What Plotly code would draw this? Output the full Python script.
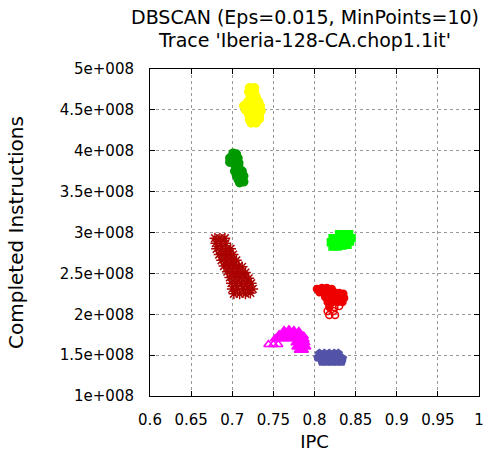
import plotly.graph_objects as go

# ---- data (IPC, Completed Instructions in units of 1e8) ----
yellow_ipc = [0.721, 0.727, 0.720, 0.727, 0.722, 0.729, 0.719, 0.726, 0.732, 0.714, 0.721, 0.728, 0.734,
              0.716, 0.723, 0.730, 0.735, 0.720, 0.727, 0.733, 0.721, 0.728, 0.733, 0.723, 0.729]
yellow_ins = [4.77, 4.77, 4.72, 4.72, 4.66, 4.66, 4.60, 4.60, 4.60, 4.55, 4.55, 4.55, 4.55,
              4.50, 4.50, 4.50, 4.49, 4.44, 4.44, 4.44, 4.38, 4.38, 4.39, 4.34, 4.34]

dgreen_ipc = [0.701, 0.705, 0.697, 0.702, 0.707, 0.697, 0.703, 0.708, 0.704, 0.708, 0.703, 0.708, 0.712,
              0.705, 0.710, 0.714, 0.707, 0.712, 0.709, 0.714]
dgreen_ins = [3.97, 3.96, 3.91, 3.91, 3.91, 3.86, 3.86, 3.85, 3.80, 3.80, 3.75, 3.75, 3.75,
              3.70, 3.70, 3.69, 3.65, 3.65, 3.61, 3.62]

dred_ipc = [0.679, 0.685, 0.691,
            0.680, 0.686, 0.692,
            0.681, 0.687, 0.693, 0.698,
            0.684, 0.690, 0.696, 0.701,
            0.687, 0.693, 0.699, 0.705,
            0.690, 0.696, 0.702, 0.708, 0.712,
            0.694, 0.700, 0.706, 0.712, 0.716,
            0.697, 0.703, 0.709, 0.715, 0.720,
            0.699, 0.705, 0.711, 0.717, 0.723,
            0.700, 0.706, 0.713, 0.719, 0.725,
            0.702, 0.709, 0.716, 0.722]
dred_ins = [2.93, 2.93, 2.93,
            2.87, 2.87, 2.87,
            2.80, 2.80, 2.80, 2.80,
            2.73, 2.73, 2.73, 2.73,
            2.66, 2.66, 2.66, 2.66,
            2.59, 2.59, 2.59, 2.59, 2.58,
            2.52, 2.52, 2.52, 2.52, 2.51,
            2.45, 2.45, 2.45, 2.45, 2.44,
            2.38, 2.38, 2.38, 2.38, 2.38,
            2.31, 2.31, 2.31, 2.31, 2.31,
            2.25, 2.25, 2.25, 2.26]

lgreen_ipc = [0.830, 0.836, 0.842, 0.822, 0.828, 0.834, 0.840, 0.845, 0.820, 0.826, 0.832, 0.838, 0.843,
              0.822, 0.828, 0.834, 0.840]
lgreen_ins = [2.98, 2.98, 2.98, 2.93, 2.93, 2.93, 2.93, 2.93, 2.88, 2.88, 2.88, 2.88, 2.89,
              2.83, 2.83, 2.84, 2.85]

red_ipc = [0.803, 0.809, 0.815, 0.821, 0.806, 0.812, 0.818, 0.824, 0.830, 0.835, 0.813, 0.819, 0.825,
           0.831, 0.836, 0.816, 0.822, 0.828, 0.834, 0.818, 0.824, 0.830, 0.816, 0.823, 0.818, 0.825]
red_ins = [2.31, 2.32, 2.32, 2.31, 2.27, 2.27, 2.27, 2.27, 2.26, 2.25, 2.21, 2.21, 2.21,
           2.21, 2.20, 2.15, 2.15, 2.15, 2.15, 2.09, 2.09, 2.10, 2.04, 2.04, 1.99, 1.99]

magenta_ipc = [0.763, 0.769, 0.775, 0.781, 0.757, 0.763, 0.769, 0.775, 0.781, 0.787, 0.752, 0.758, 0.764,
               0.770, 0.776, 0.782, 0.788, 0.777, 0.783, 0.789, 0.778, 0.784, 0.790,
               0.781, 0.787, 0.744, 0.750, 0.756]
magenta_ins = [1.80, 1.81, 1.80, 1.79, 1.75, 1.75, 1.75, 1.75, 1.74, 1.73, 1.70, 1.70, 1.70,
               1.70, 1.70, 1.69, 1.69, 1.65, 1.65, 1.65, 1.60, 1.60, 1.60,
               1.56, 1.56, 1.63, 1.63, 1.63]

blue_ipc = [0.806, 0.812, 0.818, 0.824, 0.829, 0.804, 0.810, 0.816, 0.822, 0.828, 0.834,
            0.809, 0.815, 0.821, 0.827, 0.833]
blue_ins = [1.52, 1.52, 1.52, 1.52, 1.52, 1.47, 1.47, 1.47, 1.47, 1.47, 1.46,
            1.42, 1.42, 1.42, 1.42, 1.42]

x_ticks = [0.6, 0.65, 0.7, 0.75, 0.8, 0.85, 0.9, 0.95, 1.0]
x_ticktext = ["0.6", "0.65", "0.7", "0.75", "0.8", "0.85", "0.9", "0.95", "1"]
y_ticks = [1e8, 1.5e8, 2e8, 2.5e8, 3e8, 3.5e8, 4e8, 4.5e8, 5e8]
y_ticktext = ["1e+008", "1.5e+008", "2e+008", "2.5e+008", "3e+008",
              "3.5e+008", "4e+008", "4.5e+008", "5e+008"]

title_lines = ["DBSCAN (Eps=0.015, MinPoints=10)", "Trace 'Iberia-128-CA.chop1.1it'"]

SCALE = 1e8


def symbols(n, base, open_sym, n_open):
    return [base] * (n - n_open) + [open_sym] * n_open


clusters = [
    (yellow_ipc, yellow_ins, "#FFFF00", "circle", 8),
    (dgreen_ipc, dgreen_ins, "#009900", "circle", 8),
    (dred_ipc, dred_ins, "#AA0000", "asterisk-open", 9),
    (lgreen_ipc, lgreen_ins, "#00FF00", "square", 7),
    (red_ipc, red_ins, "#EE0000", symbols(len(red_ipc), "circle", "circle-open", 6), 7),
    (magenta_ipc, magenta_ins, "#FF00FF", symbols(len(magenta_ipc), "triangle-up", "triangle-up-open", 3), 8),
    (blue_ipc, blue_ins, "#5353A8", "pentagon", 8),
]

fig = go.Figure()
for xs, ys, col, sym, sz in clusters:
    fig.add_trace(go.Scatter(
        x=xs, y=[v * SCALE for v in ys], mode="markers",
        marker=dict(symbol=sym, size=sz, color=col, line=dict(color=col, width=1.5)),
        showlegend=False, hoverinfo="skip"))

FONT = "DejaVu Sans"
axis_common = dict(
    showline=True, linecolor="black", linewidth=1, mirror="ticks",
    ticks="inside", ticklen=5, tickcolor="black",
    showgrid=True, gridcolor="#999999", griddash="dot", gridwidth=1,
    zeroline=False, automargin=False,
    tickfont=dict(family=FONT, size=15, color="black"),
)

fig.update_layout(
    width=497, height=453,
    margin=dict(l=150, r=18, t=69, b=57),
    paper_bgcolor="white", plot_bgcolor="white",
    xaxis=dict(range=[0.6, 1.0], tickvals=x_ticks, ticktext=x_ticktext,
               title=dict(text="IPC", font=dict(family=FONT, size=18, color="black"), standoff=7),
               ticklabelstandoff=10, **axis_common),
    yaxis=dict(range=[1e8, 5e8], tickvals=y_ticks, ticktext=y_ticktext,
               title=dict(text="Completed Instructions", font=dict(family=FONT, size=20, color="black"), standoff=30),
               ticklabelstandoff=12, **axis_common),
)

for i, line in enumerate(title_lines):
    fig.add_annotation(text=line, xref="paper", yref="paper",
                       x=0.471, y=1.159 - i * 0.070, xanchor="center", yanchor="middle",
                       showarrow=False, font=dict(family=FONT, size=19, color="black"))

fig.write_html("out.html")
